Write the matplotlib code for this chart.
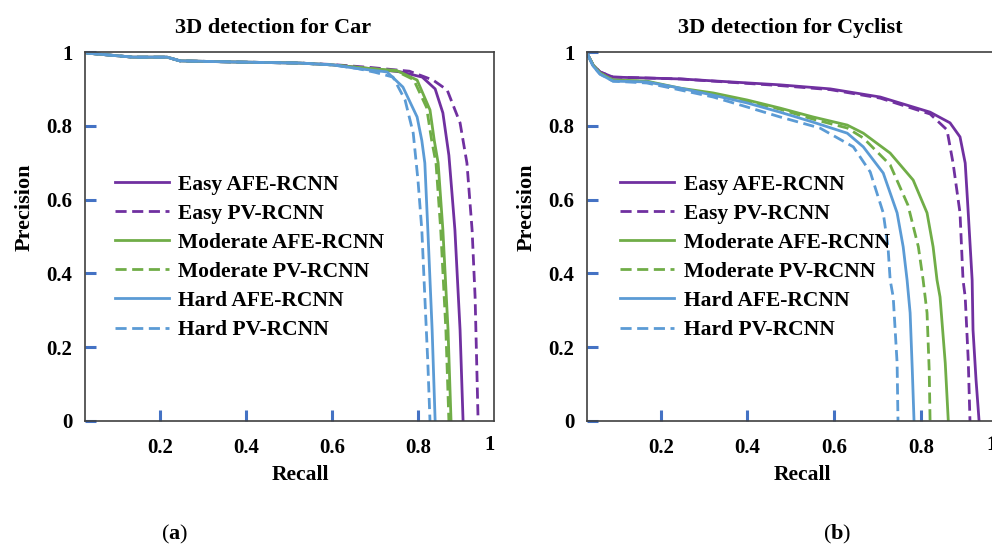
import matplotlib
matplotlib.use("Agg")
import matplotlib.pyplot as plt

plt.rcParams['font.family'] = ['Liberation Serif', 'DejaVu Serif']
plt.rcParams['mathtext.fontset'] = 'custom'
plt.rcParams['mathtext.rm'] = 'Liberation Serif'
plt.rcParams['mathtext.bf'] = 'Liberation Serif:bold'

labels = ['Easy AFE-RCNN', 'Easy PV-RCNN', 'Moderate AFE-RCNN',
          'Moderate PV-RCNN', 'Hard AFE-RCNN', 'Hard PV-RCNN']
colors = ['#7030A0', '#7030A0', '#70AD47', '#70AD47', '#5B9BD5', '#5B9BD5']
styles = ['-', '--', '-', '--', '-', '--']

# ---- Car ----
car_easy_afe_x = [0.03, 0.137, 0.216, 0.246, 0.37, 0.525, 0.602, 0.69, 0.76, 0.81, 0.84, 0.858, 0.872, 0.879, 0.886, 0.898, 0.905]
car_easy_afe_y = [0.997, 0.986, 0.986, 0.976, 0.973, 0.970, 0.965, 0.955, 0.946, 0.932, 0.90, 0.835, 0.72, 0.62, 0.518, 0.247, 0.0]
car_easy_pv_x = [0.03, 0.137, 0.216, 0.246, 0.37, 0.525, 0.602, 0.69, 0.78, 0.835, 0.868, 0.898, 0.914, 0.926, 0.933, 0.940]
car_easy_pv_y = [0.997, 0.986, 0.986, 0.976, 0.973, 0.970, 0.966, 0.958, 0.948, 0.924, 0.897, 0.808, 0.699, 0.518, 0.336, 0.0]
car_mod_afe_x = [0.03, 0.137, 0.216, 0.246, 0.37, 0.525, 0.602, 0.69, 0.75, 0.798, 0.828, 0.838, 0.847, 0.858, 0.870, 0.877]
car_mod_afe_y = [0.997, 0.986, 0.986, 0.976, 0.973, 0.970, 0.965, 0.955, 0.950, 0.924, 0.843, 0.76, 0.699, 0.518, 0.247, 0.0]
car_mod_pv_x = [0.03, 0.137, 0.216, 0.246, 0.37, 0.525, 0.602, 0.69, 0.75, 0.79, 0.82, 0.832, 0.842, 0.853, 0.865, 0.872]
car_mod_pv_y = [0.997, 0.986, 0.986, 0.976, 0.973, 0.970, 0.965, 0.955, 0.948, 0.925, 0.85, 0.76, 0.699, 0.518, 0.247, 0.0]
car_hard_afe_x = [0.03, 0.137, 0.216, 0.246, 0.37, 0.525, 0.602, 0.66, 0.728, 0.765, 0.798, 0.809, 0.816, 0.823, 0.833, 0.840]
car_hard_afe_y = [0.997, 0.986, 0.986, 0.976, 0.973, 0.970, 0.965, 0.955, 0.946, 0.905, 0.824, 0.76, 0.699, 0.518, 0.247, 0.0]
car_hard_pv_x = [0.03, 0.137, 0.216, 0.246, 0.37, 0.525, 0.602, 0.66, 0.70, 0.742, 0.770, 0.789, 0.800, 0.809, 0.816, 0.823, 0.828]
car_hard_pv_y = [0.997, 0.986, 0.986, 0.976, 0.973, 0.970, 0.965, 0.955, 0.945, 0.932, 0.87, 0.78, 0.653, 0.518, 0.336, 0.157, 0.0]

# ---- Cyclist ----
cyc_easy_afe_x = [0.032, 0.044, 0.060, 0.090, 0.245, 0.360, 0.475, 0.591, 0.706, 0.821, 0.867, 0.890, 0.902, 0.909, 0.918, 0.920, 0.927, 0.934]
cyc_easy_afe_y = [0.992, 0.965, 0.946, 0.932, 0.927, 0.919, 0.911, 0.900, 0.878, 0.837, 0.808, 0.770, 0.699, 0.564, 0.382, 0.247, 0.111, 0.0]
cyc_easy_pv_x = [0.032, 0.044, 0.060, 0.090, 0.245, 0.360, 0.475, 0.591, 0.706, 0.821, 0.860, 0.874, 0.890, 0.897, 0.902, 0.909, 0.913]
cyc_easy_pv_y = [0.992, 0.965, 0.946, 0.932, 0.927, 0.918, 0.909, 0.898, 0.875, 0.832, 0.789, 0.699, 0.564, 0.382, 0.336, 0.165, 0.0]
cyc_mod_afe_x = [0.032, 0.044, 0.060, 0.090, 0.168, 0.245, 0.321, 0.399, 0.475, 0.551, 0.630, 0.667, 0.729, 0.782, 0.814, 0.828, 0.837, 0.844, 0.856, 0.863]
cyc_mod_afe_y = [0.992, 0.965, 0.943, 0.924, 0.921, 0.902, 0.889, 0.870, 0.848, 0.824, 0.802, 0.780, 0.726, 0.653, 0.564, 0.472, 0.382, 0.336, 0.157, 0.0]
cyc_mod_pv_x = [0.032, 0.044, 0.060, 0.090, 0.168, 0.245, 0.321, 0.399, 0.475, 0.551, 0.630, 0.667, 0.729, 0.770, 0.794, 0.805, 0.814, 0.819, 0.821]
cyc_mod_pv_y = [0.992, 0.965, 0.943, 0.924, 0.920, 0.900, 0.886, 0.867, 0.845, 0.818, 0.794, 0.767, 0.694, 0.585, 0.472, 0.382, 0.293, 0.138, 0.0]
cyc_hard_afe_x = [0.032, 0.044, 0.060, 0.090, 0.168, 0.245, 0.321, 0.399, 0.475, 0.551, 0.630, 0.667, 0.713, 0.745, 0.759, 0.768, 0.775, 0.780, 0.784]
cyc_hard_afe_y = [0.992, 0.962, 0.940, 0.921, 0.919, 0.902, 0.883, 0.862, 0.837, 0.810, 0.780, 0.743, 0.672, 0.564, 0.472, 0.382, 0.293, 0.138, 0.0]
cyc_hard_pv_x = [0.032, 0.044, 0.060, 0.090, 0.168, 0.245, 0.321, 0.399, 0.475, 0.567, 0.644, 0.683, 0.713, 0.724, 0.729, 0.736, 0.745, 0.747]
cyc_hard_pv_y = [0.992, 0.962, 0.940, 0.921, 0.916, 0.897, 0.878, 0.851, 0.824, 0.794, 0.743, 0.675, 0.564, 0.472, 0.382, 0.336, 0.157, 0.0]

car_x = [car_easy_afe_x, car_easy_pv_x, car_mod_afe_x, car_mod_pv_x, car_hard_afe_x, car_hard_pv_x]
car_y = [car_easy_afe_y, car_easy_pv_y, car_mod_afe_y, car_mod_pv_y, car_hard_afe_y, car_hard_pv_y]
cyc_x = [cyc_easy_afe_x, cyc_easy_pv_x, cyc_mod_afe_x, cyc_mod_pv_x, cyc_hard_afe_x, cyc_hard_pv_x]
cyc_y = [cyc_easy_afe_y, cyc_easy_pv_y, cyc_mod_afe_y, cyc_mod_pv_y, cyc_hard_afe_y, cyc_hard_pv_y]

W, H = 992, 545
fig = plt.figure(figsize=(W / 100, H / 100), dpi=100)
ax1 = fig.add_axes([85 / W, 124 / H, 409 / W, 369 / H])
ax2 = fig.add_axes([587 / W, 124 / H, 409 / W, 369 / H])

panels = [
    (ax1, car_x, car_y, '3D detection for Car', 0.46, (0.025, 0.977), '(a)', 0.22, 0.073),
    (ax2, cyc_x, cyc_y, '3D detection for Cyclist', 0.496, (0.03, 0.973), '(b)', 0.611, 0.081),
]

for ax, xs, ys, title, tx, xlim, tag, tagx, legx in panels:
    for x, y, lab, c, ls in zip(xs, ys, labels, colors, styles):
        line, = ax.plot(x, y, color=c, linestyle=ls, lw=2, label=lab)
        if ls == '--':
            line.set_dashes((4, 2))
    ax.set_xlim(*xlim)
    ax.set_ylim(0, 1.0)
    ax.set_xticks([0.2, 0.4, 0.6, 0.8])
    ax.set_xticklabels(['0.2', '0.4', '0.6', '0.8'])
    ax.set_yticks([0, 0.2, 0.4, 0.6, 0.8, 1.0])
    ax.set_yticklabels(['0', '0.2', '0.4', '0.6', '0.8', '1'])
    ax.tick_params(direction='in', length=8, width=2.2, color='#4472C4',
                   labelsize=15, top=False, right=False)
    ax.tick_params(axis='x', pad=12)
    ax.tick_params(axis='y', pad=9)
    for t in ax.get_xticklabels() + ax.get_yticklabels():
        t.set_fontweight('bold')
    for s in ax.spines.values():
        s.set_color('#404040')
        s.set_linewidth(1.2)
    # the "1" of the x axis sits at the right edge, as in the source figure
    ax.text(0.99, -0.065, '1', transform=ax.transAxes, ha='center', va='center',
            fontsize=15, fontweight='bold')
    ax.text(tx, 1.066, title, transform=ax.transAxes, ha='center', va='center',
            fontsize=16, fontweight='bold')
    ax.text(-0.147, 0.58, 'Precision', transform=ax.transAxes, rotation=90,
            ha='center', va='center', fontsize=16, fontweight='bold')
    ax.text(0.526, -0.145, 'Recall', transform=ax.transAxes, ha='center',
            va='center', fontsize=15.5, fontweight='bold')
    ax.text(tagx, -0.307, '(' + r'$\mathbf{' + tag[1] + '}$' + ')',
            transform=ax.transAxes, ha='center', va='center', fontsize=16)
    ax.legend(loc='upper left', bbox_to_anchor=(legx, 0.668), frameon=False,
              prop={'size': 15.5, 'weight': 'bold'}, handlelength=2.5,
              handletextpad=0.45, labelspacing=0.42, borderpad=0,
              borderaxespad=0)

fig.savefig('out.png', dpi=100)
